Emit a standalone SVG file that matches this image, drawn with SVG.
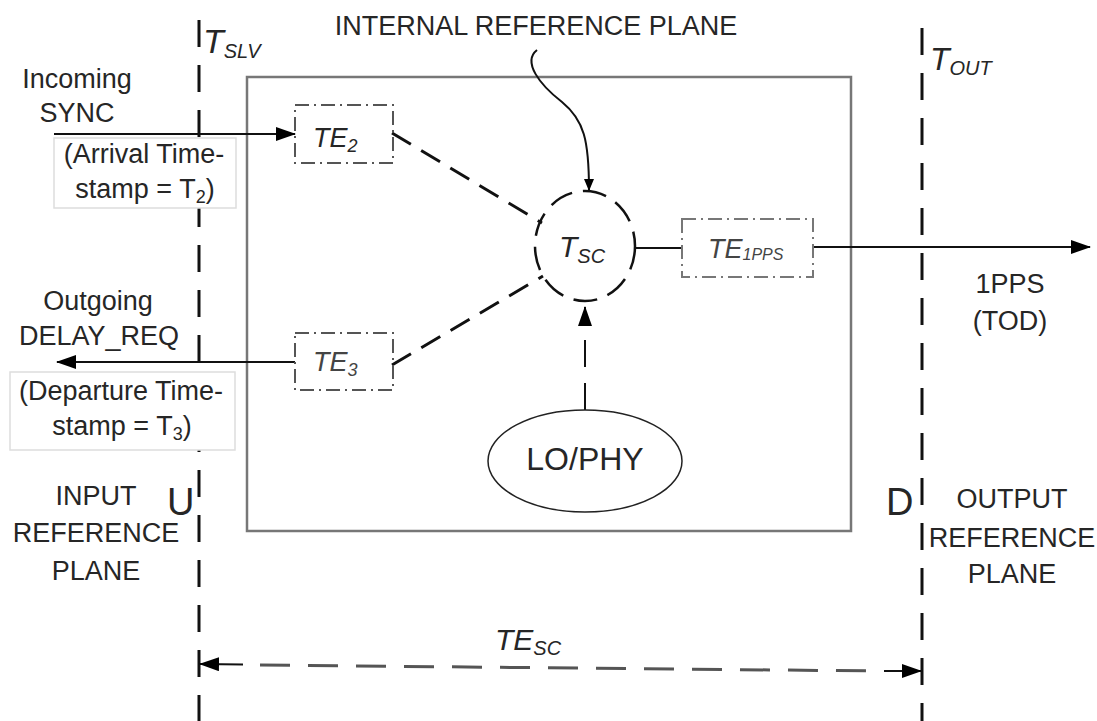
<svg xmlns="http://www.w3.org/2000/svg" width="1097" height="721" viewBox="0 0 1097 721">
<style>
svg{font-size:27px}
text{font-family:"Liberation Sans",Arial,sans-serif;fill:#262626}
.it{font-style:italic}
.mid{text-anchor:middle}
.plane{stroke:#111;stroke-width:3;stroke-dasharray:27 18;fill:none}
.te{fill:none;stroke:#555;stroke-width:2;stroke-dasharray:14 5 2 5}
.solid{stroke:#111;stroke-width:2;fill:none}
.dash{stroke:#111;stroke-width:3;stroke-dasharray:22 12;fill:none}
.lbl{fill:#fff;stroke:#ddd;stroke-width:1.5}
</style>
<defs>
<marker id="ah" markerUnits="userSpaceOnUse" viewBox="0 0 20 14" markerWidth="20" markerHeight="14" refX="19" refY="7" orient="auto"><path d="M0,0 L20,7 L0,14 z" fill="#000"/></marker>
<marker id="ahs" markerUnits="userSpaceOnUse" viewBox="0 0 12 10" markerWidth="12" markerHeight="10" refX="11" refY="5" orient="auto"><path d="M0,0 L12,5 L0,10 z" fill="#000"/></marker>
</defs>
<g id="planes">
<line class="plane" x1="199" y1="20" x2="199" y2="721"/>
<line class="plane" x1="922" y1="28" x2="922" y2="721"/>
<text class="it" x="203" y="53" font-size="34">T<tspan font-size="20" dy="5">SLV</tspan></text>
<text class="it" x="930" y="70" font-size="32">T<tspan font-size="20" dy="5">OUT</tspan></text>
</g>
<g id="box"><rect x="247" y="77" width="604" height="454" fill="none" stroke="#777" stroke-width="2.5"/></g>
<g id="internal-label"><text class="mid" x="536" y="35">INTERNAL REFERENCE PLANE</text></g>
<g id="connectors">
<line class="solid" x1="54" y1="134" x2="295" y2="134" marker-end="url(#ah)"/>
<line class="solid" x1="295" y1="362" x2="57" y2="362" marker-end="url(#ah)"/>
<line class="dash" x1="392" y1="133" x2="542" y2="223"/>
<line class="dash" x1="392" y1="365" x2="543" y2="276"/>
<line class="solid" x1="635" y1="248" x2="682" y2="248"/>
<line class="solid" x1="813" y1="247" x2="1090" y2="247" marker-end="url(#ah)"/>
<line class="solid" stroke-width="3" stroke-dasharray="27 16" x1="585" y1="410" x2="585" y2="307" marker-end="url(#ah)"/>
<path class="solid" d="M537,50 C522,62 540,85 562,102 C584,120 589,140 589,190" marker-end="url(#ahs)"/>
<g id="tesc">
<line class="solid" stroke-width="3" x1="243" y1="664.5" x2="200" y2="664" marker-end="url(#ah)"/>
<line stroke="#555" stroke-width="3" stroke-dasharray="30 18" x1="260" y1="665" x2="880" y2="671"/>
<line class="solid" stroke-width="3" x1="884" y1="671" x2="921" y2="671" marker-end="url(#ah)"/>
</g>
</g>
<g id="sync-label">
<text class="mid" x="77" y="88">Incoming</text>
<text class="mid" x="77" y="122">SYNC</text>
<rect class="lbl" x="54" y="138" width="182" height="70"/>
<text class="mid" x="144" y="163">(Arrival Time-</text>
<text class="mid" x="145" y="198">stamp = T<tspan font-size="18" dy="5">2</tspan><tspan dy="-5">)</tspan></text>
</g>
<g id="delay-label">
<text class="mid" x="98" y="310">Outgoing</text>
<text class="mid" x="99" y="345">DELAY_REQ</text>
<rect class="lbl" x="10" y="372" width="225" height="78"/>
<text class="mid" x="121" y="400">(Departure Time-</text>
<text class="mid" x="122" y="435">stamp = T<tspan font-size="18" dy="5">3</tspan><tspan dy="-5">)</tspan></text>
</g>
<g id="te2"><rect class="te" x="295" y="105" width="98" height="58"/><text class="it" x="313" y="147">TE<tspan font-size="18" dy="5">2</tspan></text></g>
<g id="te3"><rect class="te" x="295" y="333" width="98" height="57"/><text class="it" x="313" y="371" style="fill:#444">TE<tspan font-size="18" dy="5">3</tspan></text></g>
<g id="te1pps"><rect class="te" x="682" y="219" width="131" height="58" style="stroke:#777"/><text class="it" x="708" y="258" style="fill:#444">TE<tspan font-size="16" dy="2">1PPS</tspan></text></g>
<g id="tsc"><ellipse cx="585" cy="246" rx="50" ry="55" fill="none" stroke="#111" stroke-width="2.5" stroke-dasharray="24 11"/><text class="it" x="559" y="257" font-size="30">T<tspan font-size="20" dy="6">SC</tspan></text></g>
<g id="lophy"><ellipse cx="585" cy="461" rx="97" ry="51" fill="none" stroke="#222" stroke-width="1.5"/><text class="mid" x="585" y="470" font-size="32">LO/PHY</text></g>
<g id="out-label">
<text class="mid" x="1010" y="293">1PPS</text>
<text class="mid" x="1010" y="330">(TOD)</text>
</g>
<g id="input-plane">
<text class="mid" x="96" y="505">INPUT</text>
<text class="mid" x="96" y="542">REFERENCE</text>
<text class="mid" x="96" y="580">PLANE</text>
<text x="167" y="515" font-size="38">U</text>
</g>
<g id="output-plane">
<text x="886" y="515" font-size="38">D</text>
<text class="mid" x="1012" y="508">OUTPUT</text>
<text class="mid" x="1012" y="547">REFERENCE</text>
<text class="mid" x="1012" y="583">PLANE</text>
</g>
<g id="tesc-label"><text class="it" x="495" y="650" font-size="30">TE<tspan font-size="20" dy="5">SC</tspan></text></g>
</svg>
